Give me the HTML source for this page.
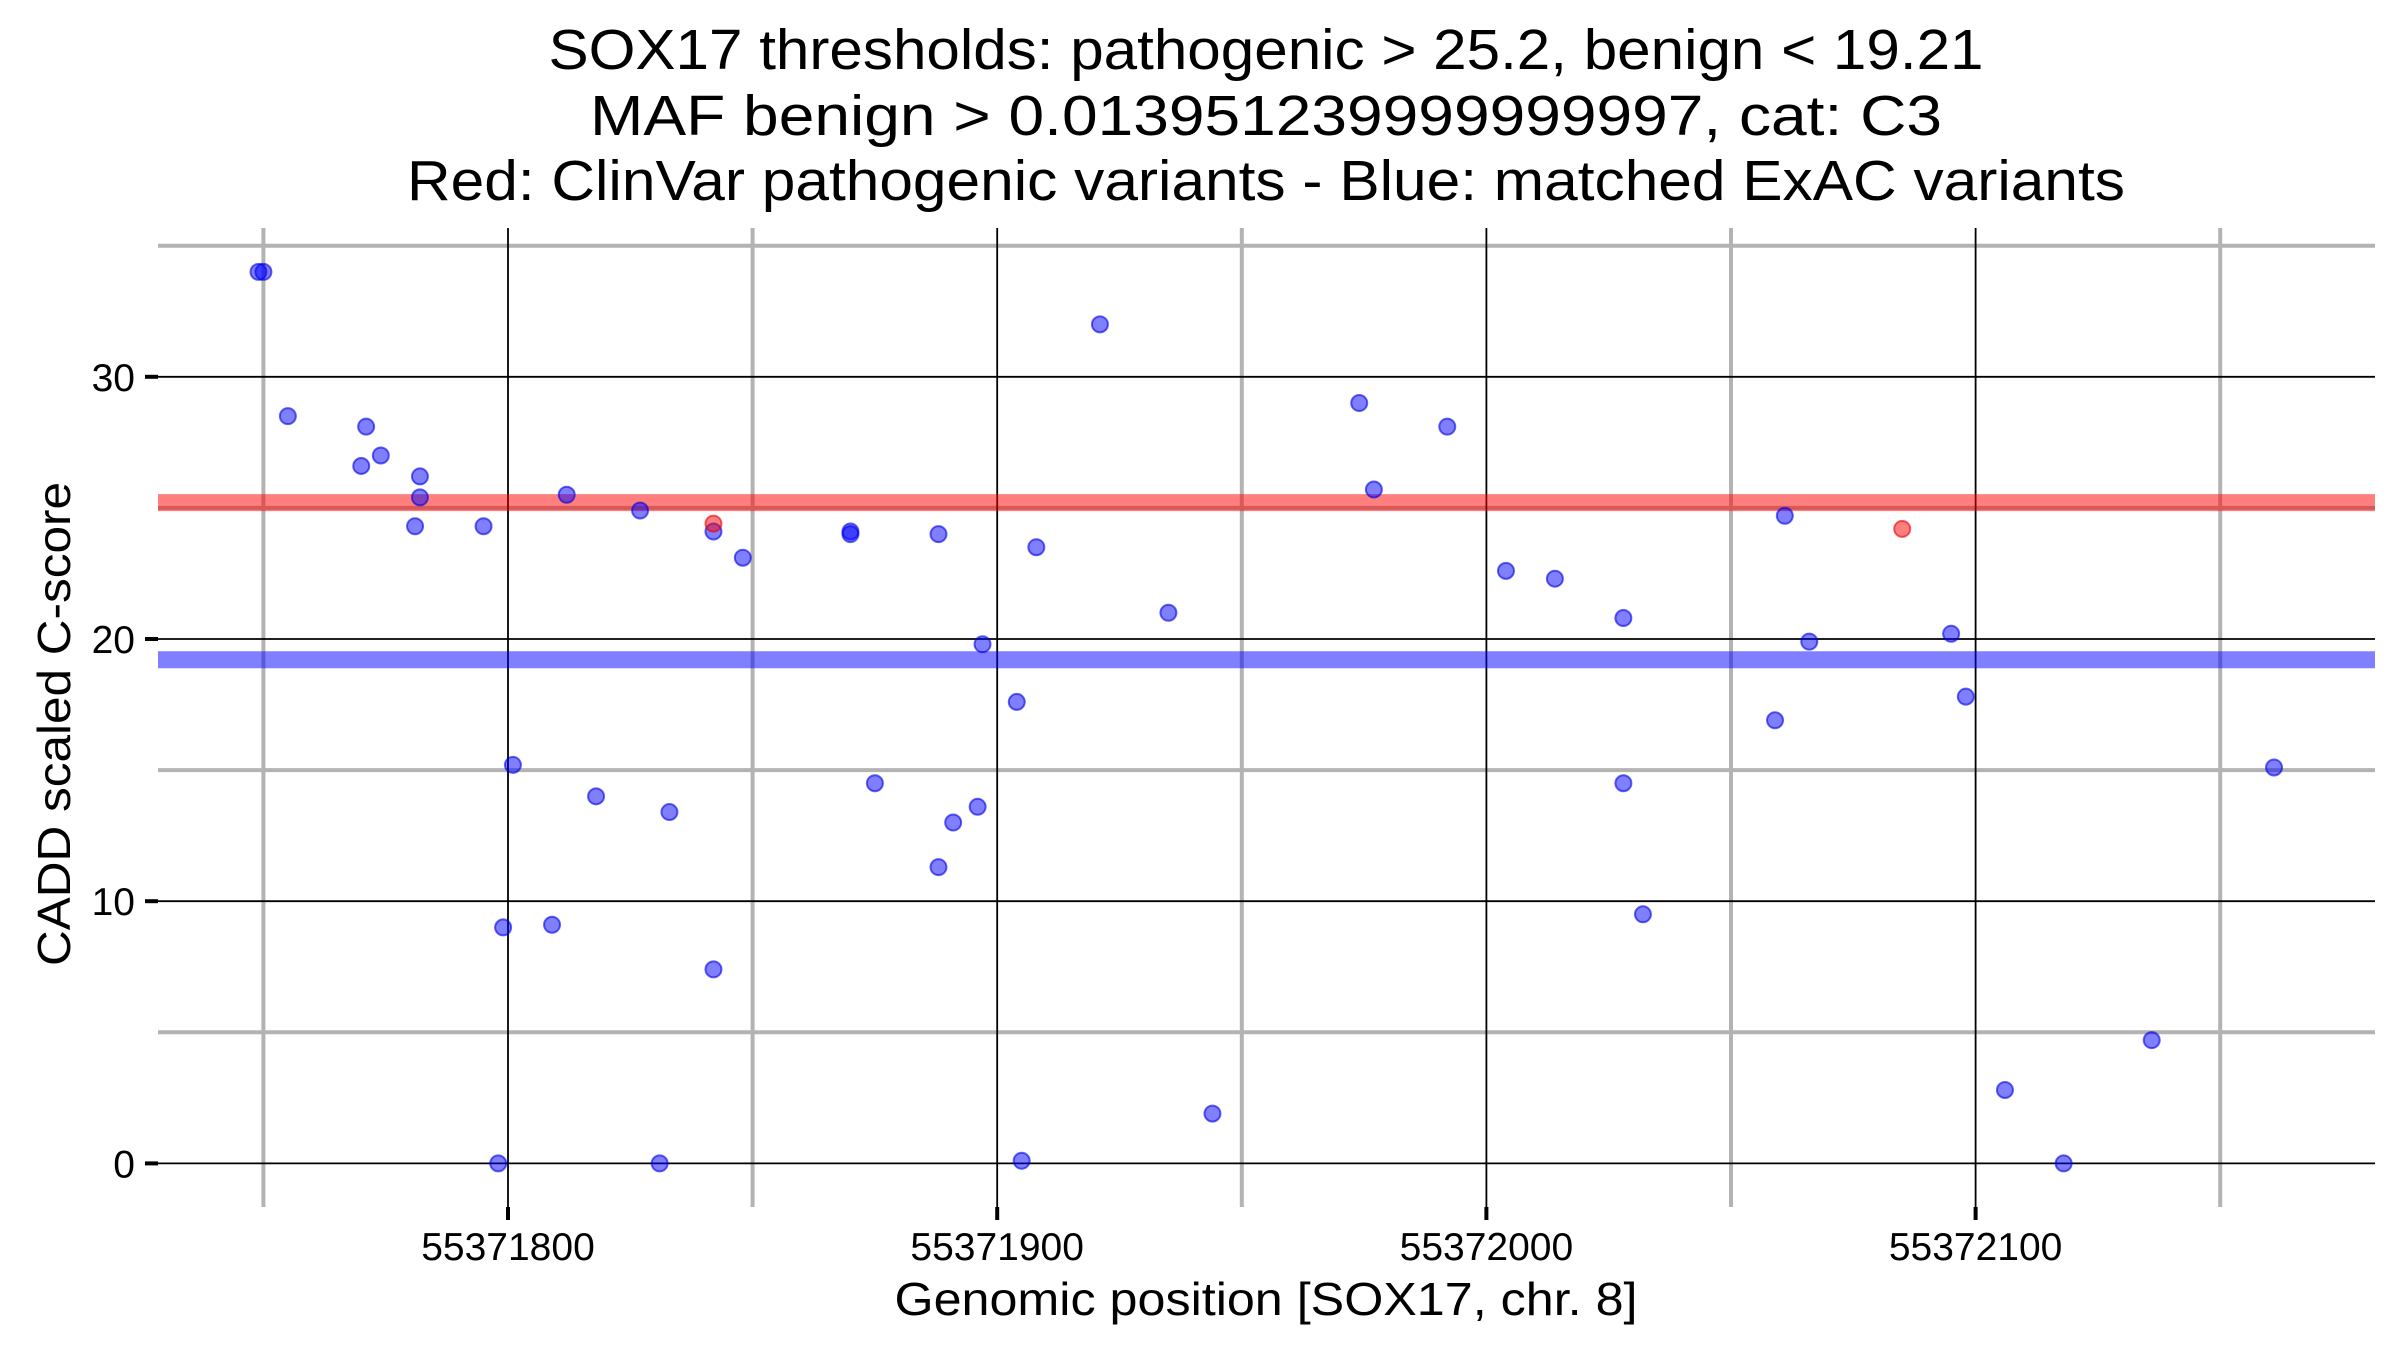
<!DOCTYPE html>
<html><head><meta charset="utf-8"><style>
html,body{margin:0;padding:0;background:#fff;}
svg{display:block;font-family:"Liberation Sans",Arial,sans-serif;}
</style></head><body>
<svg id="chart" width="2400" height="1350" viewBox="0 0 2400 1350" xmlns="http://www.w3.org/2000/svg">
<g text-anchor="middle" font-size="57" fill="#000">
<text x="1266" y="69" textLength="1435" lengthAdjust="spacingAndGlyphs">SOX17 thresholds: pathogenic &gt; 25.2, benign &lt; 19.21</text>
<text x="1266" y="135" textLength="1352" lengthAdjust="spacingAndGlyphs">MAF benign &gt; 0.013951239999999997, cat: C3</text>
<text x="1266" y="200" textLength="1718" lengthAdjust="spacingAndGlyphs">Red: ClinVar pathogenic variants - Blue: matched ExAC variants</text>
</g>
<g id="grid"></g>
<g id="thresholds"></g>
<g id="points"></g>
<g id="axes"></g>
<text x="1266" y="1315" text-anchor="middle" font-size="46" textLength="743" lengthAdjust="spacingAndGlyphs">Genomic position [SOX17, chr. 8]</text>
<text x="0" y="0" transform="translate(70,724) rotate(-90)" text-anchor="middle" font-size="46" textLength="484" lengthAdjust="spacingAndGlyphs">CADD scaled C-score</text>
</svg>
<script>
const blueX = [55371749,55371750,55371755,55371771,55371770,55371774,55371782,55371782,55371781,55371795,55371801,55371799,55371798,55371809,55371812,55371818,55371827,55371831,55371833,55371842,55371842,55371848,55371870,55371870,55371875,55371888,55371888,55371891,55371896,55371897,55371904,55371905,55371908,55371921,55371935,55371944,55371974,55371977,55371992,55372004,55372014,55372028,55372028,55372032,55372059,55372061,55372066,55372095,55372098,55372106,55372118,55372136,55372161];
const blueY = [34.0,34.0,28.5,28.1,26.6,27.0,26.2,25.4,24.3,24.3,15.2,9.0,0,9.1,25.5,14.0,24.9,0,13.4,24.1,7.4,23.1,24.1,24.0,14.5,24.0,11.3,13.0,13.6,19.8,17.6,0.1,23.5,32.0,21.0,1.9,29.0,25.7,28.1,22.6,22.3,20.8,14.5,9.5,16.9,24.7,19.9,20.2,17.8,2.8,0,4.7,15.1];
const redX = [55371842,55372085];
const redY = [24.4,24.2];
const thresholdValues = [25.2,19.21];
const majorYTicks = [0,10,20,30];
const minorYTicks = [5,15,25,35];
const majorXTicks = [55371800,55371900,55372000,55372100];
const minorXTicks = [55371750,55371850,55371950,55372050,55372150];

const L=158,R=2375,T=228,B=1207;
const xs=v=>508+(v-55371800)*4.892;
const ys=v=>1163.4-v*26.22;
const NS='http://www.w3.org/2000/svg';
function mk(tag,attrs,parent){const e=document.createElementNS(NS,tag);for(const k in attrs)e.setAttribute(k,attrs[k]);parent.appendChild(e);return e;}
const grid=document.getElementById('grid');
minorYTicks.forEach(v=>{const e=mk('line',{x1:L,x2:R,y1:ys(v),y2:ys(v),stroke:'#b3b3b3','stroke-width':4},grid);

});
minorXTicks.forEach(v=>{const e=mk('line',{x1:xs(v),x2:xs(v),y1:T,y2:B,stroke:'#b3b3b3','stroke-width':4},grid);

});
majorYTicks.forEach(v=>{const e=mk('line',{x1:L,x2:R,y1:ys(v),y2:ys(v),stroke:'#000','stroke-width':1.8},grid);

});
majorXTicks.forEach(v=>{const e=mk('line',{x1:xs(v),x2:xs(v),y1:T,y2:B,stroke:'#000','stroke-width':1.8},grid);

});
const th=document.getElementById('thresholds');
const thColors=['rgba(255,0,0,0.5)','rgba(0,0,255,0.5)'];
thresholdValues.forEach((v,i)=>{const e=mk('line',{x1:L,x2:R,y1:ys(v),y2:ys(v),stroke:thColors[i],'stroke-width':17},th);

});
const pts=document.getElementById('points');
blueX.forEach((x,i)=>{const e=mk('circle',{cx:xs(x),cy:ys(blueY[i]),r:8,fill:'rgba(0,0,255,0.5)',stroke:'rgba(0,0,230,0.6)','stroke-width':2},pts);

});
redX.forEach((x,i)=>{const e=mk('circle',{cx:xs(x),cy:ys(redY[i]),r:8,fill:'rgba(255,0,0,0.5)',stroke:'rgba(230,0,0,0.6)','stroke-width':2},pts);

});
const ax=document.getElementById('axes');
majorYTicks.forEach(v=>{const t=mk('line',{x1:145,x2:L,y1:ys(v),y2:ys(v),stroke:'#000','stroke-width':4},ax);


const l=mk('text',{x:135,y:ys(v)+14,'text-anchor':'end','font-size':39},ax);l.textContent=String(v);

});
majorXTicks.forEach(v=>{const t=mk('line',{x1:xs(v),x2:xs(v),y1:B,y2:1220,stroke:'#000','stroke-width':4},ax);


const l=mk('text',{x:xs(v),y:1260,'text-anchor':'middle','font-size':39},ax);l.textContent=String(v);

});
</script>
</body></html>
